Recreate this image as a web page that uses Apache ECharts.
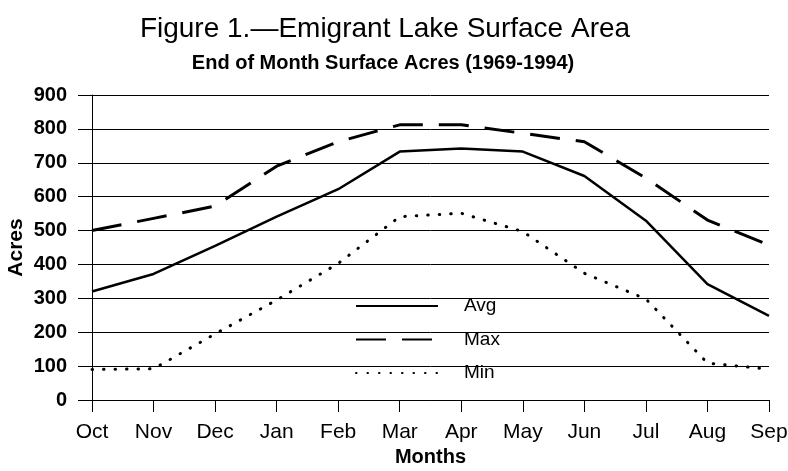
<!DOCTYPE html>
<html><head><meta charset="utf-8">
<script src="https://cdn.jsdelivr.net/npm/echarts@6/dist/echarts.min.js"></script>
<style>html,body{margin:0;padding:0;background:#fff}#c{width:788px;height:471px}</style>
</head><body><div id="c"></div>
<script>
const months = ['Oct','Nov','Dec','Jan','Feb','Mar','Apr','May','Jun','Jul','Aug','Sep'];
const avgValues = [320, 372, 455, 541, 622, 733, 742, 733, 661, 529, 342, 248];
const maxValues = [500, 536, 572, 690, 762, 812, 812, 787, 762, 655, 531, 457];
const minValues = [90, 92, 195, 295, 403, 541, 551, 497, 374, 298, 109, 91];
const yTicks = [0, 100, 200, 300, 400, 500, 600, 700, 800, 900];

const font = '"Liberation Sans", Arial, sans-serif';
const chart = echarts.init(document.getElementById('c'), null, {renderer: 'canvas'});
chart.setOption({
  animation: false,
  backgroundColor: '#fff',
  title: [
    {text: 'Figure 1.\u2014Emigrant Lake Surface Area', left: 380, top: 10, textAlign: 'center',
     textStyle: {fontFamily: font, fontSize: 28, fontWeight: 'normal', color: '#000'}},
    {text: 'End of Month Surface Acres (1969-1994)', left: 378, top: 48, textAlign: 'center',
     textStyle: {fontFamily: font, fontSize: 20, fontWeight: 'bold', color: '#000'}}
  ],
  grid: {left: 92, right: 19, top: 95, bottom: 71, containLabel: false, outerBoundsMode: 'none'},
  legend: {
    orient: 'vertical', left: 355, top: 296, itemWidth: 82, itemHeight: 20, itemGap: 13.5,
    padding: 0,
    itemStyle: {opacity: 0},
    textStyle: {fontFamily: font, fontSize: 19, color: '#000', lineHeight: 20, padding: [0,0,0,21]},
    data: ['Avg', 'Max', 'Min']
  },
  xAxis: {
    type: 'category', data: months, boundaryGap: false,
    name: 'Months', nameLocation: 'middle', nameGap: 47, nameMoveOverlap: false,
    nameTextStyle: {fontFamily: font, fontSize: 20, fontWeight: 'bold', color: '#000'},
    axisLine: {show: true, lineStyle: {color: '#000', width: 1}},
    axisTick: {show: true, length: 12, lineStyle: {color: '#000'}},
    axisLabel: {fontFamily: font, fontSize: 21, color: '#000', margin: 22}
  },
  yAxis: {
    type: 'value', min: yTicks[0], max: yTicks[yTicks.length-1], interval: 100,
    name: 'Acres', nameLocation: 'middle', nameGap: 65, nameRotate: 90, nameMoveOverlap: false,
    nameTextStyle: {fontFamily: font, fontSize: 21, fontWeight: 'bold', color: '#000'},
    axisLine: {show: true, lineStyle: {color: '#000', width: 1}},
    axisTick: {show: true, length: 14, lineStyle: {color: '#000'}},
    axisLabel: {fontFamily: font, fontSize: 20, fontWeight: 'bold', color: '#000', margin: 25},
    splitLine: {show: true, lineStyle: {color: '#000', width: 1}}
  },
  series: [
    {name: 'Avg', type: 'line', data: avgValues, symbol: 'none',
     lineStyle: {color: '#000', width: 2.5, type: 'solid'}, itemStyle: {color: '#000'}},
    {name: 'Max', type: 'line', data: maxValues, symbol: 'none',
     lineStyle: {color: '#000', width: 3, type: [30, 16]}, itemStyle: {color: '#000'}},
    {name: 'Min', type: 'line', data: minValues, symbol: 'none',
     lineStyle: {color: '#000', width: 3, type: [0.5, 11], cap: 'round'}, itemStyle: {color: '#000'}}
  ]
});
</script></body></html>
